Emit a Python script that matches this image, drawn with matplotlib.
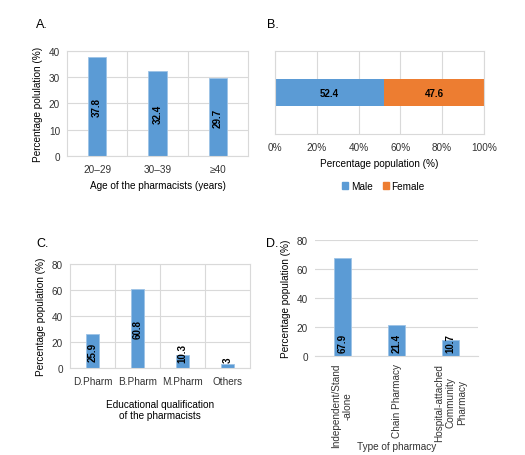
import matplotlib
matplotlib.use('Agg')
import matplotlib.pyplot as plt
from matplotlib.patches import Patch

plt.rcParams['font.family'] = ['Liberation Sans', 'DejaVu Sans']
plt.rcParams['font.size'] = 7.2

BLUE = '#5b9bd5'
ORANGE = '#ed7d31'
GRID = '#d9d9d9'
TXT = '#333333'

# A. age groups
age_labels = ['20\u201329', '30\u201339', '\u226540']
age_values = [37.8, 32.4, 29.7]

# B. gender
gender_labels = ['Male', 'Female']
gender_values = [52.4, 47.6]

# C. education
edu_labels = ['D.Pharm', 'B.Pharm', 'M.Pharm', 'Others']
edu_values = [25.9, 60.8, 10.3, 3]
edu_text = ['25.9', '60.8', '10.3', '3']

# D. type of pharmacy
type_labels = ['Independent/Stand\n-alone', 'Chain Pharmacy', 'Hospital-attached\nCommunity\nPharmacy']
type_values = [67.9, 21.4, 10.7]


def style_axes(ax, box=True):
    for s in ax.spines.values():
        s.set_color(GRID)
        s.set_linewidth(0.8)
        s.set_visible(box)
    ax.tick_params(length=0, labelcolor=TXT)
    ax.set_axisbelow(True)


def bar_labels(ax, xs, vals, texts, mode):
    for x, v, t in zip(xs, vals, texts):
        if mode == 'center':
            ax.text(x, v / 2, t, rotation=90, ha='center', va='center',
                    fontweight='bold', fontsize=7)
        else:
            ax.annotate(t, (x, 0), xytext=(0, mode), textcoords='offset points',
                        rotation=90, ha='center', va='bottom',
                        fontweight='bold', fontsize=7)


fig = plt.figure(figsize=(5.25, 4.56), dpi=100)

# ---- A ----
axA = fig.add_axes([0.1276, 0.6557, 0.3448, 0.2303])
xs = list(range(len(age_values)))
axA.bar(xs, age_values, width=0.3, color=BLUE, edgecolor='#9dc3e6', linewidth=0.6)
axA.set_xlim(-0.5, 2.5)
axA.set_ylim(0, 40)
axA.set_yticks([0, 10, 20, 30, 40])
axA.set_xticks(xs)
axA.set_xticklabels(age_labels)
axA.grid(axis='y', color=GRID, linewidth=0.8)
for b in [0.5, 1.5]:
    axA.axvline(b, color=GRID, linewidth=0.8, zorder=0)
style_axes(axA)
axA.tick_params(axis='y', pad=5)
axA.tick_params(axis='x', pad=6)
axA.set_ylabel('Percentage polulation (%)', labelpad=4)
axA.set_xlabel('Age of the pharmacists (years)', labelpad=4)
bar_labels(axA, xs, age_values, [str(v) for v in age_values], 'center')
fig.text(0.0686, 0.945, 'A.', fontsize=9, va='center')

# ---- B ----
axB = fig.add_axes([0.5238, 0.7039, 0.398, 0.182])
axB.barh(0, gender_values[0], height=0.63, color=BLUE, label=gender_labels[0])
axB.barh(0, gender_values[1], left=gender_values[0], height=0.63, color=ORANGE,
         label=gender_labels[1])
axB.text(gender_values[0] / 2, 0, str(gender_values[0]), ha='center', va='center',
         fontweight='bold', fontsize=7)
axB.text(gender_values[0] + gender_values[1] / 2, 0, str(gender_values[1]),
         ha='center', va='center', fontweight='bold', fontsize=7)
axB.set_xlim(0, 100)
axB.set_ylim(-1, 1)
axB.set_yticks([])
axB.set_xticks([0, 20, 40, 60, 80, 100])
axB.set_xticklabels(['0%', '20%', '40%', '60%', '80%', '100%'])
axB.grid(axis='x', color=GRID, linewidth=0.8)
style_axes(axB)
axB.tick_params(axis='x', pad=6)
axB.set_xlabel('Percentage population (%)', labelpad=4)
handles = [Patch(color=BLUE, label='Male'), Patch(color=ORANGE, label='Female')]
fig.legend(handles=handles, loc='center', bbox_to_anchor=(0.73, 1 - 187 / 456),
           ncol=2, frameon=False, handlelength=0.6, handleheight=0.6,
           handletextpad=0.3, columnspacing=1.0, fontsize=7.2)
fig.text(0.5086, 0.945, 'B.', fontsize=9, va='center')

# ---- C ----
axC = fig.add_axes([0.1333, 0.1908, 0.3429, 0.228])
xs = list(range(len(edu_values)))
axC.bar(xs, edu_values, width=0.31, color=BLUE, edgecolor='#9dc3e6', linewidth=0.6)
axC.set_xlim(-0.5, 3.5)
axC.set_ylim(0, 80)
axC.set_yticks([0, 20, 40, 60, 80])
axC.set_xticks(xs)
axC.set_xticklabels(edu_labels)
axC.grid(axis='y', color=GRID, linewidth=0.8)
for b in [0.5, 1.5, 2.5]:
    axC.axvline(b, color=GRID, linewidth=0.8, zorder=0)
style_axes(axC)
axC.tick_params(axis='y', pad=5)
axC.tick_params(axis='x', pad=6)
axC.set_ylabel('Percentage population (%)', labelpad=4)
axC.set_xlabel('Educational qualification\nof the pharmacists', labelpad=9)
for x, v, t in zip(xs, edu_values, edu_text):
    if v > 20:
        bar_labels(axC, [x], [v], [t], 'center')
    else:
        bar_labels(axC, [x], [v], [t], 4)
fig.text(0.0686, 1 - 244 / 456, 'C.', fontsize=9, va='center')

# ---- D ----
axD = fig.add_axes([0.6, 0.2171, 0.3105, 0.2544])
xs = list(range(len(type_values)))
axD.bar(xs, type_values, width=0.31, color=BLUE, edgecolor='#9dc3e6', linewidth=0.6)
axD.set_xlim(-0.5, 2.5)
axD.set_ylim(0, 80)
axD.set_yticks([0, 20, 40, 60, 80])
axD.set_xticks(xs)
axD.set_xticklabels(type_labels, rotation=90, ha='center', va='top', ma='center')
axD.grid(axis='y', color=GRID, linewidth=0.8)
style_axes(axD, box=False)
axD.spines['bottom'].set_visible(True)
axD.tick_params(axis='y', pad=5)
axD.tick_params(axis='x', pad=5)
axD.set_ylabel('Percentage population (%)', labelpad=4)
bar_labels(axD, xs, type_values, [str(v) for v in type_values], 3)
fig.text(397 / 525, 1 - 447 / 456, 'Type of pharmacy', ha='center', va='center',
         fontsize=7.2, color=TXT)
fig.text(266 / 525, 1 - 244 / 456, 'D.', fontsize=9, va='center')

fig.savefig('out.png', dpi=100)
